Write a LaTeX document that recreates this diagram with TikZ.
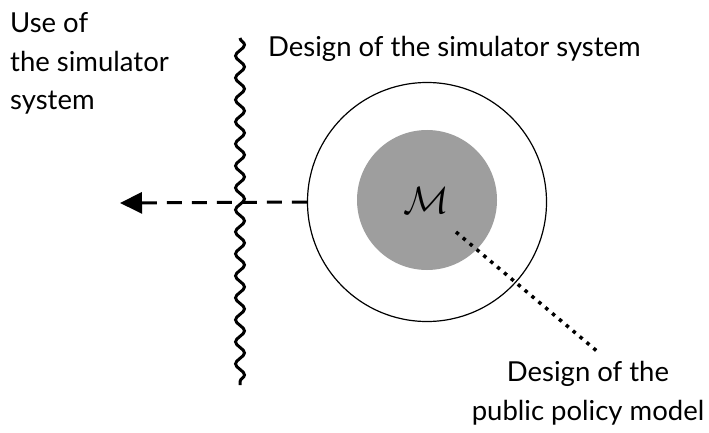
\documentclass[tikz,border=0pt]{standalone}
\usepackage{fontspec}
\setmainfont{Lato}
\usetikzlibrary{decorations.pathmorphing,arrows.meta}
\definecolor{modelgray}{HTML}{9E9E9E}
\begin{document}
\begin{tikzpicture}[x=1pt,y=-1pt,
  lbl/.style={inner sep=0pt,font=\fontsize{27.5}{38.5}\selectfont},
  wavy/.style={line width=3pt,decorate,decoration={snake,segment length=22pt,amplitude=4.5pt}},
  dasharrow/.style={line width=3pt,dash pattern=on 15pt off 10pt,-{Triangle[length=22pt,width=21pt]}},
  dotline/.style={line width=3.5pt,dash pattern=on 3.5pt off 5.5pt}]
\useasboundingbox (0,0) rectangle (709,433);
\coordinate (wtop) at (240,38);
\coordinate (wbot) at (240,385);
\draw[wavy] (wtop) -- (wbot);
\node[lbl,anchor=base west,align=left] (use) at (10,110) {Use of\\the simulator\\system};
\node[lbl,anchor=base west] (design) at (268,57) {Design of the simulator system};
\node[circle,draw,line width=1.2pt,minimum size=239pt,inner sep=0pt] (outer) at (427,202) {};
\node[circle,fill=modelgray,minimum size=140pt,inner sep=0pt] (inner) at (427,200) {};
\node[scale=3.8,inner sep=0pt] (M) at (426,201) {$\mathcal{M}$};
\coordinate (tip) at (120,203);
\draw[dasharrow] (outer.west) -- (tip);
\node[lbl,anchor=base,align=center] (policy) at (588,420) {Design of the\\public policy model};
\coordinate (dstart) at (456,232);
\draw[dotline] (dstart) -- (598,352);
\end{tikzpicture}
\end{document}
